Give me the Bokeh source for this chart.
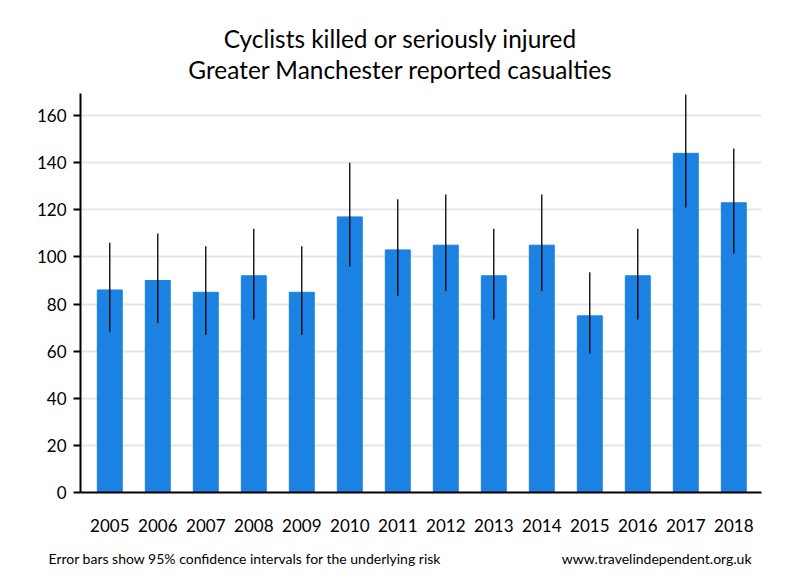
from bokeh.plotting import figure
from bokeh.models import ColumnDataSource, Range1d, FixedTicker, Label
from bokeh.layouts import column, row
from bokeh.embed import file_html
from bokeh.resources import INLINE

years = [2005, 2006, 2007, 2008, 2009, 2010, 2011, 2012, 2013, 2014, 2015, 2016, 2017, 2018]
casualties = [86, 90, 85, 92, 85, 117, 103, 105, 92, 105, 75, 92, 144, 123]
ci_lower = [68, 72, 67, 73.5, 67, 96, 83.5, 85.5, 73.5, 85.5, 59, 73.5, 121, 101.5]
ci_upper = [106, 110, 104.5, 112, 104.5, 140, 124.5, 126.5, 112, 126.5, 93.5, 112, 169, 146]
y_ticks = [0, 20, 40, 60, 80, 100, 120, 140, 160]

title_lines = ["Cyclists killed or seriously injured", "Greater Manchester reported casualties"]
note_left = "Error bars show 95% confidence intervals for the underlying risk"
note_right = "www.travelindependent.org.uk"

FONT = "Lato"


def text_strip(h):
    f = figure(width=800, height=h, output_backend="svg", toolbar_location=None,
               x_axis_type=None, y_axis_type=None, x_range=Range1d(0, 1), y_range=Range1d(0, 1),
               min_border=0, min_border_left=0, min_border_right=0, min_border_top=0, min_border_bottom=0)
    f.outline_line_color = None
    f.xgrid.visible = False
    f.ygrid.visible = False
    return f


header = text_strip(93)
header.add_layout(Label(x=400, y=93 - 38, x_units="screen", y_units="screen", text=title_lines[0],
                        text_align="center", text_baseline="alphabetic", text_font=FONT,
                        text_font_size="24.4px", text_color="black"))
header.add_layout(Label(x=400, y=93 - 69, x_units="screen", y_units="screen", text=title_lines[1],
                        text_align="center", text_baseline="alphabetic", text_font=FONT,
                        text_font_size="24.4px", text_color="black"))

src = ColumnDataSource(dict(x=years, top=casualties, lo=ci_lower, hi=ci_upper))

x0 = 2004.39
ppu = 48.0
p = figure(width=800, height=447, output_backend="svg", toolbar_location=None,
           x_range=Range1d(x0, x0 + 681 / ppu), y_range=Range1d(0, 169.4),
           min_border_left=80, min_border_right=39, min_border_top=0, min_border_bottom=48)
p.outline_line_color = None
p.background_fill_color = "white"
p.border_fill_color = "white"

p.vbar(x="x", top="top", width=0.52, bottom=0, source=src, color="#1B82E1")
p.segment(x0="x", y0="lo", x1="x", y1="hi", source=src, line_color="black", line_width=1.3)

p.xgrid.grid_line_color = None
p.ygrid.grid_line_color = "#e6e6e6"
p.ygrid.grid_line_width = 2
p.ygrid.ticker = FixedTicker(ticks=y_ticks)

p.yaxis.ticker = FixedTicker(ticks=y_ticks)
p.yaxis.axis_line_width = 2
p.yaxis.axis_line_color = "black"
p.yaxis.major_tick_out = 7
p.yaxis.major_tick_in = 0
p.yaxis.minor_tick_line_color = None
p.yaxis.major_tick_line_color = "black"
p.yaxis.major_tick_line_width = 2
p.yaxis.major_label_text_font = FONT
p.yaxis.major_label_text_font_size = "17px"
p.yaxis.major_label_text_color = "black"
p.yaxis.major_label_standoff = 7

p.xaxis.ticker = FixedTicker(ticks=years)
p.xaxis.major_label_overrides = {y: str(y) for y in years}
p.xaxis.axis_line_width = 2
p.xaxis.axis_line_color = "black"
p.xaxis.major_tick_line_color = None
p.xaxis.minor_tick_line_color = None
p.xaxis.major_label_text_font = FONT
p.xaxis.major_label_text_font_size = "17px"
p.xaxis.major_label_text_color = "black"
p.xaxis.major_label_standoff = 20

notes = text_strip(40)
notes.add_layout(Label(x=48, y=22, x_units="screen", y_units="screen", text=note_left, text_align="left",
                       text_baseline="alphabetic", text_font=FONT, text_font_size="14px", text_color="black"))
notes.add_layout(Label(x=751, y=22, x_units="screen", y_units="screen", text=note_right, text_align="right",
                       text_baseline="alphabetic", text_font=FONT, text_font_size="14px", text_color="black"))

layout = column(row(header), row(p), row(notes), spacing=0)
open("out.html", "w").write(file_html(layout, INLINE))
